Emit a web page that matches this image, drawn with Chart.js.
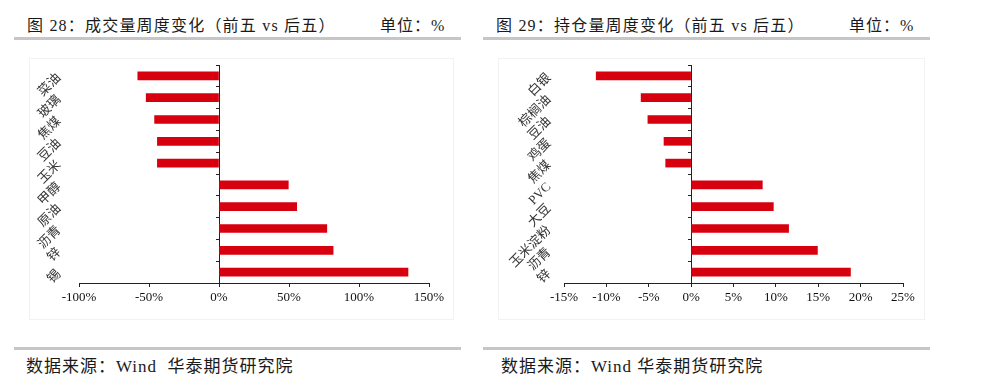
<!DOCTYPE html>
<html>
<head>
<meta charset="utf-8">
<script src="https://cdn.jsdelivr.net/npm/chart.js@4"></script>
<style>
  body { margin: 0; background: #fff; width: 986px; height: 390px; position: relative; overflow: hidden;
         font-family: "Liberation Serif", "Noto Sans CJK SC", serif; color: #1a1a1a; }
  .title { position: absolute; top: 12px; font-size: 16px; letter-spacing: 1.2px; white-space: nowrap; }
  .unit { position: absolute; top: 12px; font-size: 16px; letter-spacing: 1px; white-space: nowrap; }
  .rule { position: absolute; height: 3px; background: #c6c6c6; }
  .frame { position: absolute; border: 1px solid #f2f2f2; }
  .src { position: absolute; top: 352px; font-size: 17px; letter-spacing: 1px; white-space: nowrap; }
  .box { position: absolute; top: 45px; width: 447px; height: 280px; }
</style>
</head>
<body>
<div class="title" style="left:27px">图 28：成交量周度变化（前五 vs 后五）</div>
<div class="unit" style="left:380px">单位：%</div>
<div class="rule" style="left:14px;width:447px;top:37px"></div>
<div class="frame" style="left:29px;top:58px;width:423px;height:260px"></div>

<div class="title" style="left:496px">图 29：持仓量周度变化（前五 vs 后五）</div>
<div class="unit" style="left:849px">单位：%</div>
<div class="rule" style="left:483px;width:447px;top:37px"></div>
<div class="frame" style="left:498px;top:58px;width:425px;height:260px"></div>

<div class="box" style="left:14px"><canvas id="volChart"></canvas></div>
<div class="box" style="left:483px"><canvas id="oiChart"></canvas></div>

<div class="rule" style="left:14px;width:447px;top:347px"></div>
<div class="rule" style="left:483px;width:447px;top:347px"></div>
<div class="src" style="left:26px">数据来源：Wind&nbsp; 华泰期货研究院</div>
<div class="src" style="left:501px">数据来源：Wind 华泰期货研究院</div>

<script>
// 图28 成交量周度变化 (%)
const volCats = ['菜油', '玻璃', '焦煤', '豆油', '玉米', '甲醇', '原油', '沥青', '锌', '锡'];
const volChg = [-58, -52, -46, -44, -44, 49.5, 55.5, 77, 81.5, 135];
const volTicks = [-100, 150, 50];

// 图29 持仓量周度变化 (%)
const oiCats = ['白银', '棕榈油', '豆油', '鸡蛋', '焦煤', 'PVC', '大豆', '玉米淀粉', '沥青', '锌'];
const oiChg = [-11.2, -5.9, -5.1, -3.2, -3.0, 8.4, 9.7, 11.5, 14.9, 18.8];
const oiTicks = [-15, 25, 5];

const red = '#d7000f';
const serif = '"Liberation Serif", "Noto Sans CJK SC", serif';

function makeChart(id, cats, vals, ticks, yWidth, labelPad, padRight) {
    return new Chart(document.getElementById(id), {
        type: 'bar',
        data: {
            labels: cats,
            datasets: [{
                data: vals,
                backgroundColor: red,
                barThickness: 8,
                yAxisID: 'y'
            }]
        },
        options: {
            indexAxis: 'y',
            responsive: true,
            maintainAspectRatio: false,
            animation: false,
            layout: { padding: { left: 0, right: padRight, top: 20, bottom: 12 } },
            plugins: { legend: { display: false }, tooltip: { enabled: false } },
            scales: {
                x: {
                    min: ticks[0],
                    max: ticks[1],
                    afterFit: s => { s.height = 30; },
                    ticks: {
                        stepSize: ticks[2],
                        color: '#111',
                        font: { family: serif, size: 13 },
                        padding: 3,
                        callback: v => v + '%'
                    },
                    grid: { drawOnChartArea: false, tickLength: 4, color: '#222' },
                    border: { color: '#222', width: 1 }
                },
                y: {
                    position: 'left',
                    afterFit: s => { s.width = yWidth; },
                    ticks: {
                        autoSkip: false,
                        minRotation: 45,
                        maxRotation: 45,
                        padding: labelPad,
                        color: '#333',
                        font: { family: serif, size: 13 }
                    },
                    grid: { display: false },
                    border: { display: false }
                },
                yz: {
                    type: 'category',
                    position: { x: 0 },
                    offset: true,
                    ticks: { display: false },
                    grid: { offset: true, drawOnChartArea: false, tickLength: 3, color: '#222' },
                    border: { color: '#222', width: 1 }
                }
            }
        }
    });
}

makeChart('volChart', volCats, volChg, volTicks, 65, 12, 32);
makeChart('oiChart', oiCats, oiChg, oiTicks, 81, 7, 27);
</script>
</body>
</html>
